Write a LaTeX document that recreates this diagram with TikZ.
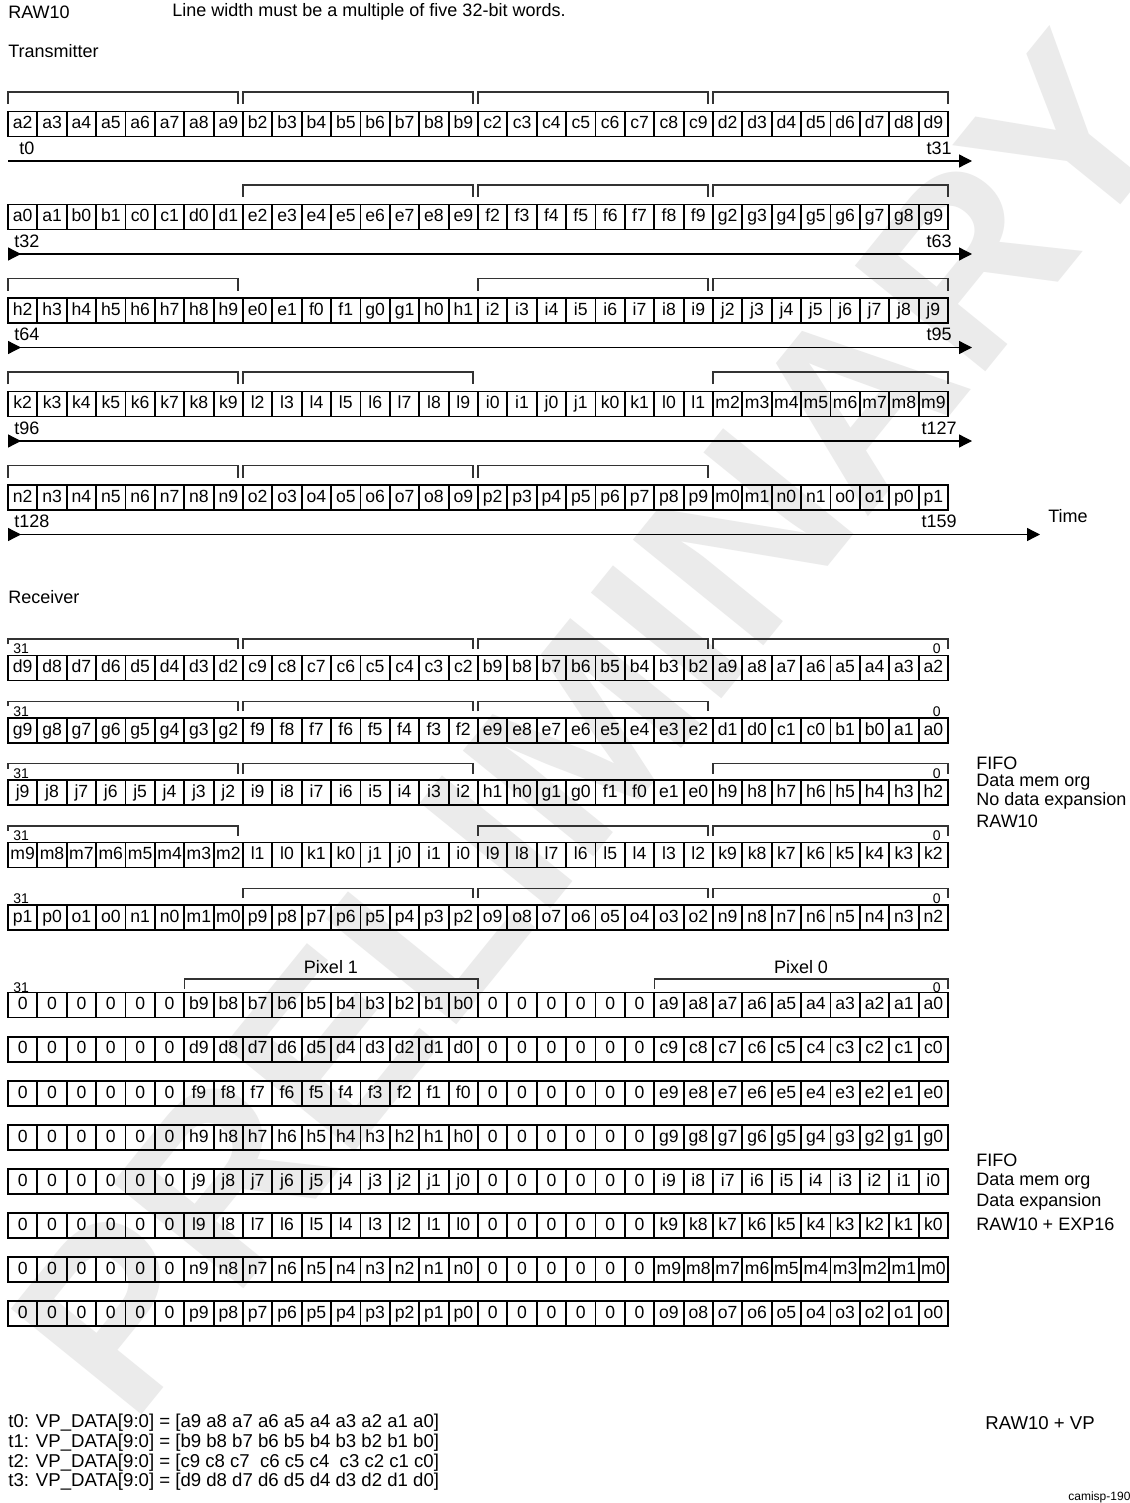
\documentclass[tikz,border=0pt]{standalone}
\usepackage{fontspec}
\setmainfont{Liberation Sans}
\usetikzlibrary{arrows.meta}
\newcommand\cellrow[3]{%
  \foreach \lab [count=\ci from 0] in {#3}{%
    \node[cell] (#1-\ci) at ({8+29.375*(\ci+0.5)},#2) {\lab};}}
% group bracket: #1 x1, #2 x2, #3 ytop, #4 left tick, #5 right tick
\newcommand\gbr[5]{\draw[brk] (#1,#3+#4) -- (#1,#3) -- (#2,#3) -- (#2,#3+#5);}
\tikzset{
  cell/.style={draw, line width=0.9pt, minimum width=14.6875pt, minimum height=12.5pt,
    inner sep=0pt, text height=6.4pt, text depth=1.6pt, font=\fontsize{8.8}{10}\selectfont},
  brk/.style={line width=0.6pt, black!80},
  lbl/.style={inner sep=0pt, font=\fontsize{9}{11}\selectfont},
  smalllbl/.style={inner sep=0pt, font=\fontsize{7}{8}\selectfont},
  bottomlbl/.style={inner sep=0pt, anchor=west, font=\fontsize{9.3}{11}\selectfont},
  axis/.style={line width=0.65pt, -{Triangle[length=6.5pt,width=6.5pt]}},
  axis2/.style={line width=0.65pt, {Triangle[reversed,length=6.5pt,width=6.5pt]}-{Triangle[length=6.5pt,width=6.5pt]}},
}
\begin{document}
\begin{tikzpicture}[x=0.5pt,y=-0.5pt]
\useasboundingbox (0,0) rectangle (1129,1503);
\fill[white] (0,0) rectangle (1129,1503);
% watermark
\node[rotate=51, inner sep=0pt, text=black!8, font=\fontsize{122}{122}\selectfont\bfseries] (wm) at (592,725) {PRELIMINARY};

% header
\node[lbl, anchor=west] (raw) at (8,12) {RAW10};
\node[lbl, anchor=west] (note) at (172,12) {Line width must be a multiple of five 32-bit words.};
\node[lbl, anchor=west] (tx) at (8,51) {Transmitter};

% ---------- Transmitter ----------
\cellrow{T1}{124}{a2,a3,a4,a5,a6,a7,a8,a9,b2,b3,b4,b5,b6,b7,b8,b9,c2,c3,c4,c5,c6,c7,c8,c9,d2,d3,d4,d5,d6,d7,d8,d9}
\gbr{8}{238}{92}{12}{12}\gbr{243}{473}{92}{12}{12}\gbr{478}{708}{92}{12}{12}\gbr{713}{948}{92}{12}{12}
\coordinate (A1s) at (8,161); \coordinate (A1e) at (972,161);
\draw[axis] (A1s) -- (A1e);
\node[lbl, anchor=west] (t0) at (19,148) {t0};
\node[lbl, anchor=east] (t31) at (952,148) {t31};

\cellrow{T2}{217}{a0,a1,b0,b1,c0,c1,d0,d1,e2,e3,e4,e5,e6,e7,e8,e9,f2,f3,f4,f5,f6,f7,f8,f9,g2,g3,g4,g5,g6,g7,g8,g9}
\gbr{243}{473}{185}{12}{12}\gbr{478}{708}{185}{12}{12}\gbr{713}{948}{185}{12}{12}
\coordinate (A2s) at (8,254); \coordinate (A2e) at (972,254);
\draw[axis2] (A2s) -- (A2e);
\node[lbl, anchor=west] (t32) at (14,241) {t32};
\node[lbl, anchor=east] (t63) at (952,241) {t63};

\cellrow{T3}{310.5}{h2,h3,h4,h5,h6,h7,h8,h9,e0,e1,f0,f1,g0,g1,h0,h1,i2,i3,i4,i5,i6,i7,i8,i9,j2,j3,j4,j5,j6,j7,j8,j9}
\gbr{8}{238}{278.5}{12}{12}\gbr{478}{708}{278.5}{12}{12}\gbr{713}{948}{278.5}{12}{12}
\coordinate (A3s) at (8,347.5); \coordinate (A3e) at (972,347.5);
\draw[axis2] (A3s) -- (A3e);
\node[lbl, anchor=west] (t64) at (14,334.5) {t64};
\node[lbl, anchor=east] (t95) at (952,334.5) {t95};

\cellrow{T4}{404}{k2,k3,k4,k5,k6,k7,k8,k9,l2,l3,l4,l5,l6,l7,l8,l9,i0,i1,j0,j1,k0,k1,l0,l1,m2,m3,m4,m5,m6,m7,m8,m9}
\gbr{8}{238}{372}{12}{12}\gbr{243}{473}{372}{12}{12}\gbr{713}{948}{372}{12}{12}
\coordinate (A4s) at (8,441); \coordinate (A4e) at (972,441);
\draw[axis2] (A4s) -- (A4e);
\node[lbl, anchor=west] (t96) at (14,428) {t96};
\node[lbl, anchor=east] (t127) at (957,428) {t127};

\cellrow{T5}{497.5}{n2,n3,n4,n5,n6,n7,n8,n9,o2,o3,o4,o5,o6,o7,o8,o9,p2,p3,p4,p5,p6,p7,p8,p9,m0,m1,n0,n1,o0,o1,p0,p1}
\gbr{8}{238}{465.5}{12}{12}\gbr{243}{473}{465.5}{12}{12}\gbr{478}{708}{465.5}{12}{12}
\coordinate (A5s) at (8,534.5); \coordinate (A5e) at (1040,534.5);
\draw[axis2] (A5s) -- (A5e);
\node[lbl, anchor=west] (t128) at (14,521.5) {t128};
\node[lbl, anchor=east] (t159) at (957,521.5) {t159};
\node[lbl] (time) at (1068,516) {Time};

% ---------- Receiver ----------
\node[lbl, anchor=west] (rx) at (8,597) {Receiver};
\foreach \yy in {668,730.3,792.6,854.9,917.2}{
  \node[smalllbl, anchor=west] at (13,\yy-19) {31};
  \node[smalllbl, anchor=east] at (941,\yy-19) {0};
}
\cellrow{R1}{668}{d9,d8,d7,d6,d5,d4,d3,d2,c9,c8,c7,c6,c5,c4,c3,c2,b9,b8,b7,b6,b5,b4,b3,b2,a9,a8,a7,a6,a5,a4,a3,a2}
\gbr{8}{238}{639}{5}{10}\gbr{243}{473}{639}{10}{10}\gbr{478}{708}{639}{10}{10}\gbr{713}{948}{639}{10}{10}
\cellrow{R2}{730.3}{g9,g8,g7,g6,g5,g4,g3,g2,f9,f8,f7,f6,f5,f4,f3,f2,e9,e8,e7,e6,e5,e4,e3,e2,d1,d0,c1,c0,b1,b0,a1,a0}
\gbr{8}{238}{701.3}{5}{10}\gbr{243}{473}{701.3}{10}{10}\gbr{478}{708}{701.3}{10}{10}
\cellrow{R3}{792.6}{j9,j8,j7,j6,j5,j4,j3,j2,i9,i8,i7,i6,i5,i4,i3,i2,h1,h0,g1,g0,f1,f0,e1,e0,h9,h8,h7,h6,h5,h4,h3,h2}
\gbr{8}{238}{763.6}{5}{10}\gbr{243}{473}{763.6}{10}{10}\gbr{713}{948}{763.6}{10}{10}
\cellrow{R4}{854.9}{m9,m8,m7,m6,m5,m4,m3,m2,l1,l0,k1,k0,j1,j0,i1,i0,l9,l8,l7,l6,l5,l4,l3,l2,k9,k8,k7,k6,k5,k4,k3,k2}
\gbr{8}{238}{825.9}{5}{10}\gbr{478}{708}{825.9}{10}{10}\gbr{713}{948}{825.9}{10}{10}
\cellrow{R5}{917.2}{p1,p0,o1,o0,n1,n0,m1,m0,p9,p8,p7,p6,p5,p4,p3,p2,o9,o8,o7,o6,o5,o4,o3,o2,n9,n8,n7,n6,n5,n4,n3,n2}
\gbr{243}{473}{888.2}{10}{10}\gbr{478}{708}{888.2}{10}{10}\gbr{713}{948}{888.2}{10}{10}

\node[lbl, anchor=west] (f1a) at (976,763) {FIFO};
\node[lbl, anchor=west] (f1b) at (976,782) {Data mem org};
\node[lbl, anchor=west] (f1c) at (976,801) {No data expansion};
\node[lbl, anchor=west] (f1d) at (976,821) {RAW10};

% ---------- Expansion ----------
\node[lbl] (px1) at (331,967) {Pixel 1};
\node[lbl] (px0) at (801,967) {Pixel 0};
\gbr{184.25}{478}{979}{10}{10}
\gbr{654.25}{948}{979}{10}{10}
\node[smalllbl, anchor=west] (b31) at (13,988) {31};
\node[smalllbl, anchor=east] (b0l) at (941,988) {0};
\foreach \p/\q [count=\k from 0] in {b/a,d/c,f/e,h/g,j/i,l/k,n/m,p/o}{
  \cellrow{E\k}{1005+44.1*\k}{0,0,0,0,0,0,\p9,\p8,\p7,\p6,\p5,\p4,\p3,\p2,\p1,\p0,0,0,0,0,0,0,\q9,\q8,\q7,\q6,\q5,\q4,\q3,\q2,\q1,\q0}
}
\node[lbl, anchor=west] (f2a) at (976,1160) {FIFO};
\node[lbl, anchor=west] (f2b) at (976,1181) {Data mem org};
\node[lbl, anchor=west] (f2c) at (976,1202) {Data expansion};
\node[lbl, anchor=west] (f2d) at (976,1224) {RAW10 + EXP16};

% ---------- bottom ----------
\node[bottomlbl] (v0) at (8,1423) {t0: VP\_DATA[9:0] = [a9 a8 a7 a6 a5 a4 a3 a2 a1 a0]};
\node[bottomlbl] (v1) at (8,1443) {t1: VP\_DATA[9:0] = [b9 b8 b7 b6 b5 b4 b3 b2 b1 b0]};
\node[bottomlbl] (v2) at (8,1463) {t2: VP\_DATA[9:0] = [c9 c8 c7~ c6 c5 c4~ c3 c2 c1 c0]};
\node[bottomlbl] (v3) at (8,1482) {t3: VP\_DATA[9:0] = [d9 d8 d7 d6 d5 d4 d3 d2 d1 d0]};
\node[bottomlbl] (vp) at (985,1423) {RAW10 + VP};
\node[inner sep=0pt, anchor=west, font=\fontsize{6}{7}\selectfont] (cam) at (1068,1497) {camisp-190};
\end{tikzpicture}
\end{document}
